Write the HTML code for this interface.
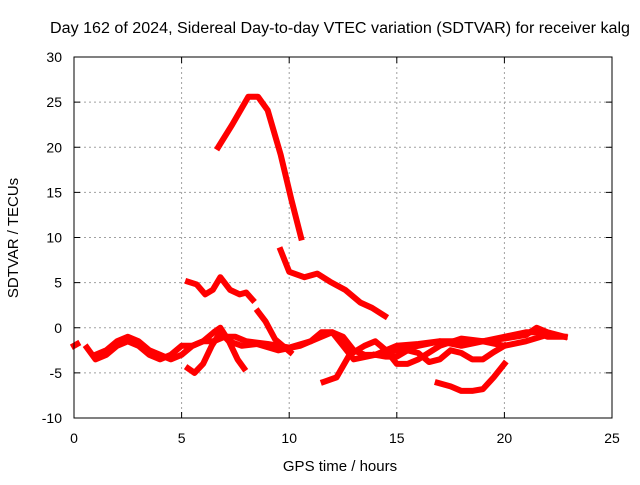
<!DOCTYPE html>
<html><head><meta charset="utf-8"><style>
body{margin:0;background:#fff}
svg text{font-family:"Liberation Sans",sans-serif;font-size:14px;fill:#000}
</style></head><body>
<svg id="chart" width="640" height="480" xmlns="http://www.w3.org/2000/svg">
<text x="340" y="33" text-anchor="middle" style="font-size:15.5px" textLength="580" lengthAdjust="spacingAndGlyphs">Day 162 of 2024, Sidereal Day-to-day VTEC variation (SDTVAR) for receiver kalg</text>
<text x="340" y="471" text-anchor="middle" style="font-size:15px">GPS time / hours</text>
<text transform="translate(18,238) rotate(-90)" text-anchor="middle" style="font-size:15px">SDTVAR / TECUs</text>
<g id="grid"></g><g id="ticks"></g><g id="series"></g>
<rect x="74" y="57" width="538" height="361" fill="none" stroke="#000" stroke-width="1"/>
</svg>
<script>
const xTicks=[0,5,10,15,20,25];
const yTicks=[-10,-5,0,5,10,15,20,25,30];
const trackA=[[6.7,20],[7.35,22.5],[8.1,25.6],[8.55,25.6],[9,24.1],[9.6,19.2],[10.1,14.2],[10.55,10]];
const trackB=[[9.6,8.6],[10,6.2],[10.7,5.6],[11.3,6],[11.9,5.1],[12.6,4.2],[13.3,2.8],[13.85,2.2],[14.45,1.3]];
const trackC=[[5.3,5.1],[5.7,4.8],[6.1,3.7],[6.45,4.2],[6.8,5.6],[7.25,4.2],[7.7,3.7],[8,3.9],[8.3,3.1]];
const trackD=[[8.55,1.8],[8.9,0.7],[9.35,-1.3],[10.05,-2.7]];
const trackE=[[0.6,-2.2],[1,-3.5],[1.5,-3],[2,-2],[2.5,-1.5],[3,-2],[3.5,-3],[4,-3.5],[4.5,-3],[5,-2],[5.5,-2],[6,-1.5],[6.5,-0.5],[6.8,0],[7.2,-1.5],[7.6,-3.5],[7.9,-4.5]];
const trackF=[[1,-3],[1.5,-2.5],[2,-1.5],[2.5,-1],[3,-1.5],[3.5,-2.5],[4,-3],[4.5,-3.5],[5,-3],[5.5,-2],[6,-1.5],[6.5,-1.5],[7,-1],[7.5,-1],[8,-1.5],[9,-1.8],[10,-2.2],[11,-1.5],[11.5,-0.5],[12,-0.5],[12.5,-1],[13,-2.5],[13.5,-3],[14,-3],[15,-2.5],[16,-2],[17,-1.5],[18,-1.5],[19,-1.5],[20,-1.2],[21,-0.8],[21.5,0],[22,-0.5],[22.8,-1]];
const trackG=[[5.3,-4.5],[5.6,-5],[6,-4],[6.4,-2],[6.8,-0.5],[7.2,-1.5],[7.8,-2],[8.5,-1.8],[9.5,-2.5],[10.5,-2],[11.5,-1],[12,-0.5],[12.5,-2],[13,-3.5],[14,-3],[15,-2],[16,-1.8],[17,-1.5],[18,-2],[19,-1.5],[20,-1],[21,-0.5],[21.5,-0.5],[22,-1],[22.8,-1]];
const trackH=[[11.6,-6],[12.2,-5.5],[12.8,-3],[13.5,-2],[14,-1.5],[14.5,-2.5],[15,-4],[15.5,-4],[16,-3.5],[17,-2],[18,-1.2],[19,-1.5],[20,-2],[21,-1.5],[21.7,-1]];
const trackI=[[16.9,-6.1],[17.5,-6.5],[18,-7],[18.5,-7],[19,-6.8],[19.5,-5.5],[20,-4]];
const trackJ=[[14,-3],[14.5,-3.2],[15,-3.2],[15.5,-2.5],[16,-2.8],[16.5,-3.8],[17,-3.5],[17.5,-2.5],[18,-2.8],[18.5,-3.5],[19,-3.5],[19.5,-2.7],[20,-2]];
const trackK=[[0,-2],[0.15,-1.8]];
const tracks=[trackA,trackB,trackC,trackD,trackE,trackF,trackG,trackH,trackI,trackJ,trackK];
const NS="http://www.w3.org/2000/svg";
const X0=74,X1=612,Y0=418,Y1=57;
const sx=h=>X0+(h-0)/(25-0)*(X1-X0);
const sy=v=>Y0-(v+10)/(30+10)*(Y0-Y1);
const grid=document.getElementById('grid'),ticks=document.getElementById('ticks'),ser=document.getElementById('series');
function mk(t,a,p){const e=document.createElementNS(NS,t);for(const k in a)e.setAttribute(k,a[k]);p.appendChild(e);return e;}
xTicks.forEach(t=>{const x=sx(t);
 if(t>0&&t<25){const g=mk('line',{x1:x,x2:x,y1:Y1,y2:Y0,stroke:'#a0a0a0','stroke-dasharray':'2,3'},grid);
 
 }
 const tl=mk('text',{x:x,y:443,'text-anchor':'middle'},ticks);tl.textContent=t;
 
 
 mk('line',{x1:x,x2:x,y1:Y0,y2:Y0-6,stroke:'#000'},ticks);mk('line',{x1:x,x2:x,y1:Y1,y2:Y1+6,stroke:'#000'},ticks);});
yTicks.forEach(t=>{const y=sy(t);
 if(t>-10&&t<30){const g=mk('line',{x1:X0,x2:X1,y1:y,y2:y,stroke:'#a0a0a0','stroke-dasharray':'2,3'},grid);
 
 }
 const tl=mk('text',{x:62,y:y+5,'text-anchor':'end'},ticks);tl.textContent=t;
 
 
 mk('line',{x1:X0,x2:X0+6,y1:y,y2:y,stroke:'#000'},ticks);mk('line',{x1:X1,x2:X1-6,y1:y,y2:y,stroke:'#000'},ticks);});
tracks.forEach((tr,i)=>{const p=mk('polyline',{points:tr.map(d=>sx(d[0])+','+sy(d[1])).join(' '),fill:'none',stroke:'#ff0000','stroke-width':6,'stroke-linejoin':'round','stroke-linecap':'square'},ser);
 
 });
</script>
</body></html>
